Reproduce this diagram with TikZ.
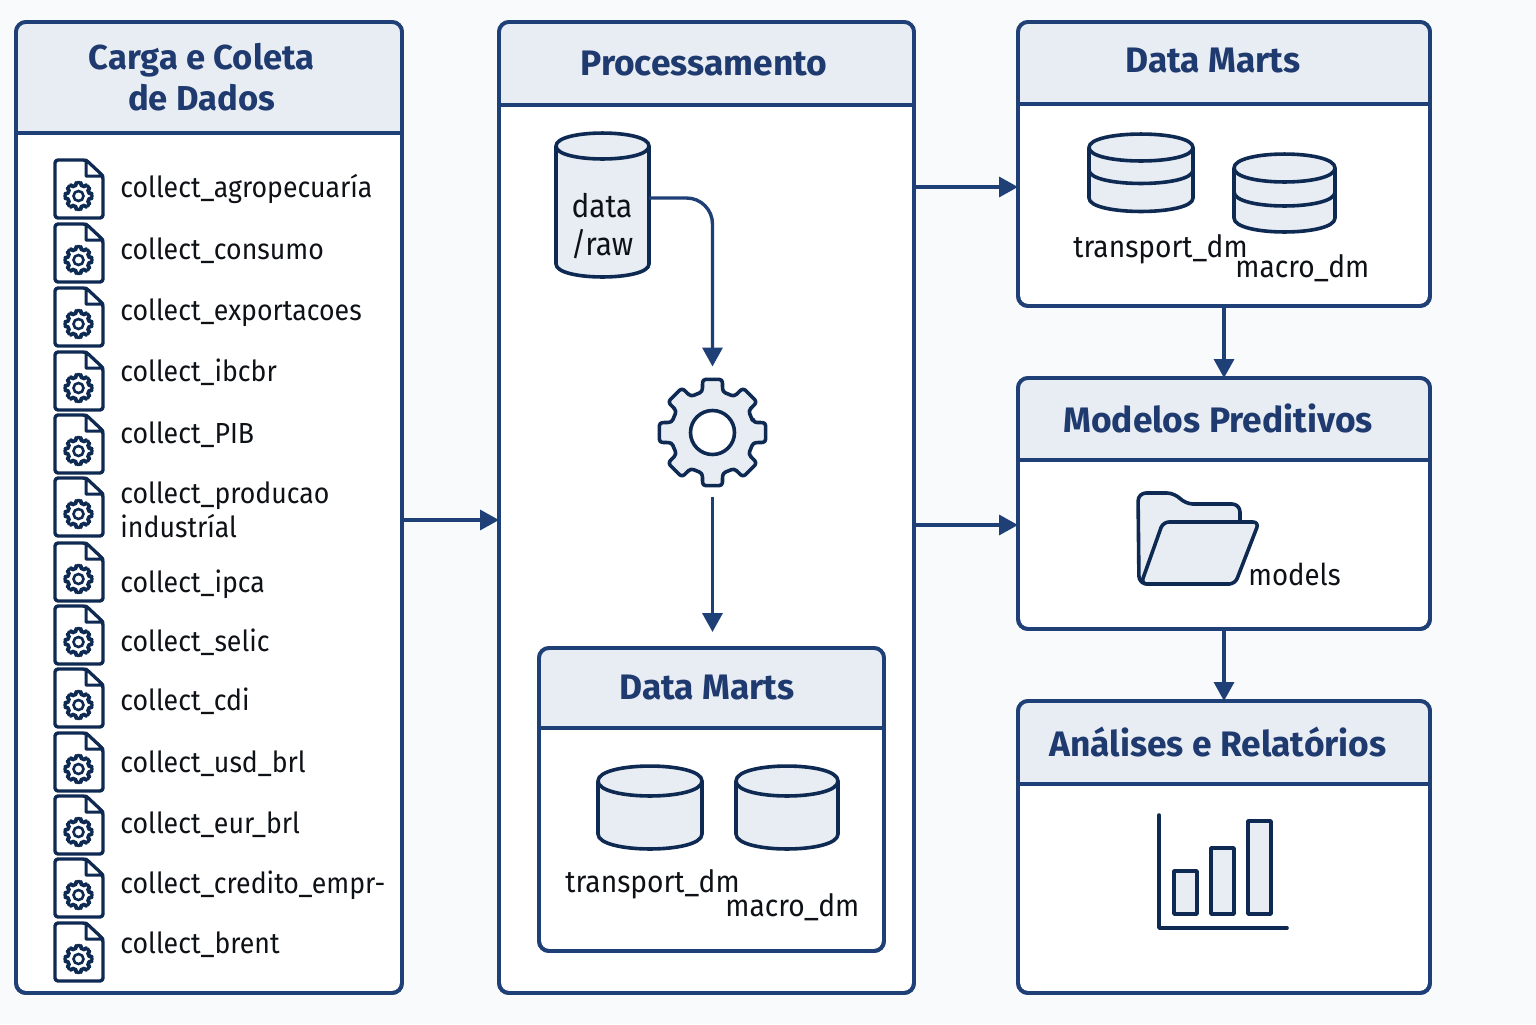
\documentclass[tikz,border=0pt]{standalone}
\usepackage{fontspec}
\setmainfont{Fira Sans}
\newfontfamily\bodyf{Fira Sans}[FakeStretch=0.92]
\usetikzlibrary{arrows.meta}
\definecolor{bgc}{HTML}{F9FAFC}
\definecolor{linec}{HTML}{1F3F77}
\definecolor{darkc}{HTML}{0F2A52}
\definecolor{headc}{HTML}{E8EDF4}
\definecolor{titlec}{HTML}{1F3A6E}
\definecolor{textc}{HTML}{0E1116}
\tikzset{
  x=0.5pt,y=-0.5pt,
  panelbox/.style={draw=linec,line width=1.9pt,rounded corners=5pt,inner sep=0pt,outer sep=0pt},
  titletext/.style={text=titlec,font=\fontsize{17.7}{20.5}\selectfont\bfseries,align=center,inner sep=0pt},
  bodytext/.style={text=textc,font=\bodyf\fontsize{14.5}{17}\selectfont,align=left,inner sep=0pt},
  dmtext/.style={bodytext,font=\bodyf\fontsize{15.3}{18}\selectfont},
  rawtext/.style={bodytext,font=\bodyf\fontsize{16.2}{19}\selectfont,align=center},
  iconline/.style={draw=darkc,line width=1.8pt,line join=round},
  iconfill/.style={iconline,fill=headc},
  arr/.style={draw=linec,line width=1.7pt,-{Triangle[length=9.5pt,width=10pt]}},
  anchorbox/.style={inner sep=0pt,outer sep=0pt},
}
\newcommand{\PanelBox}[6]{% name, x0,y0,x1,y1, header bottom
  \node[panelbox,fill=white,minimum width={(#4-#2)*0.5pt},minimum height={(#5-#3)*0.5pt}] (#1) at ({(#2+#4)/2},{(#3+#5)/2}) {};
  \begin{scope}
    \clip[rounded corners=5pt] (#2,#3) rectangle (#4,#5);
    \fill[headc] (#2,#3) rectangle (#4,#6);
  \end{scope}
  \draw[linec,line width=1.7pt] (#2,#6) -- (#4,#6);
  \node[panelbox,minimum width={(#4-#2)*0.5pt},minimum height={(#5-#3)*0.5pt}] at ({(#2+#4)/2},{(#3+#5)/2}) {};
}
\newcommand{\GearShape}[5]{% cx,cy,Rout,Rroot,style
  \draw[#5] ({#1+#4*cos(-14)},{#2+#4*sin(-14)})
    \foreach \a in {0,45,...,315}{
      -- ({#1+#4*cos(\a-14)},{#2+#4*sin(\a-14)})
      -- ({#1+#3*cos(\a-10.5)},{#2+#3*sin(\a-10.5)})
      -- ({#1+#3*cos(\a+10.5)},{#2+#3*sin(\a+10.5)})
      -- ({#1+#4*cos(\a+14)},{#2+#4*sin(\a+14)})
    } -- cycle;
}
\newcommand{\DocIcon}[2]{% name, top y
  \node[anchorbox,minimum width=24pt,minimum height=29pt] (#1) at (79,{#2+29}) {};
  \draw[iconline,line width=1.7pt,fill=white,rounded corners=1.5pt] (55,#2) -- (86,#2) -- (103,{#2+16}) -- (103,{#2+58}) -- (55,{#2+58}) -- cycle;
  \draw[iconline,line width=1.5pt,fill=white] (86,#2) -- (86,{#2+16}) -- (103,{#2+16}) -- cycle;
  \GearShape{78.5}{#2+36}{14}{10.5}{draw=darkc,line width=1.3pt,line join=round,rounded corners=1.8pt}
  \draw[darkc,line width=1.3pt] (78.5,{#2+36}) circle[radius=5];
}
\newcommand{\CylShape}[6]{% x0,x1,top centre y,bottom centre y,ry,band list
  \draw[iconfill] (#1,#3) -- (#1,#4) .. controls (#1,{#4+1.33*#5}) and (#2,{#4+1.33*#5}) .. (#2,#4) -- (#2,#3) .. controls (#2,{#3-1.33*#5}) and (#1,{#3-1.33*#5}) .. (#1,#3) -- cycle;
  \draw[iconline] (#1,#3) .. controls (#1,{#3+1.33*#5}) and (#2,{#3+1.33*#5}) .. (#2,#3);
  \foreach \b in {#6}{
    \draw[iconline] (#1,\b) .. controls (#1,{\b+1.33*#5}) and (#2,{\b+1.33*#5}) .. (#2,\b);
  }
}
\begin{document}
\begin{tikzpicture}
\useasboundingbox (0,0) rectangle (1536,1024);
\fill[bgc] (0,0) rectangle (1536,1024);

\PanelBox{carga}{16}{22}{402}{993}{133}
\PanelBox{proc}{499}{22}{914}{993}{105}
\PanelBox{dmright}{1018}{22}{1430}{306}{104}
\PanelBox{modelos}{1018}{378}{1430}{629}{460}
\PanelBox{analises}{1018}{701}{1430}{993}{784}
\PanelBox{dminner}{539}{648}{884}{951}{728}

\node[titletext,font=\fontsize{17.3}{20.5}\selectfont\bfseries] (tcarga) at (201.5,77.5) {Carga e Coleta\\de Dados};
\node[titletext] (tproc) at (704,64) {Processamento};
\node[titletext] (tdmr) at (1213,61) {Data Marts};
\node[titletext] (tmod) at (1218,418) {Modelos Preditivos};
\node[titletext] (tana) at (1218,742) {Análises e Relatórios};
\node[titletext] (tdmi) at (707,688) {Data Marts};

% document list
\foreach \n/\t in {a/160,b/224,c/288,d/352,e/415,f/478,g/543,h/606,i/669,j/733,k/796,l/859,m/923}{
  \DocIcon{doc\n}{\t}
}
\foreach \n/\y/\s in {a/197/collect\_agropecuaría,b/259/collect\_consumo,c/320/collect\_exportacoes,d/381/collect\_ibcbr,e/443/collect\_PIB,f/503/collect\_producao,g/592/collect\_ipca,h/651/collect\_selic,i/710/collect\_cdi,j/772/collect\_usd\_brl,k/833/collect\_eur\_brl,l/893/collect\_credito\_empr-,m/953/collect\_brent}{
  \node[bodytext,anchor=base west] (lab\n) at (120,\y) {\s};
}
\node[bodytext,anchor=base west] (labf2) at (120,537) {industríal};

% data/raw
\CylShape{556}{649}{146}{264}{13}{}
\node[anchorbox,minimum width=46.5pt,minimum height=72pt] (raw) at (602.5,205) {};
\node[rawtext] (rawt1) at (602,206) {data};
\node[rawtext] (rawt2) at (602,244) {/raw};

% gear
\GearShape{712.5}{432.5}{54}{42}{iconfill,rounded corners=1.5pt}
\draw[iconline,fill=white] (712.5,432.5) circle[radius=22];
\node[anchorbox,minimum size=54pt] (gear) at (712.5,432.5) {};

% right data marts
\CylShape{1089}{1193}{147.5}{198}{13.5}{170}
\CylShape{1234}{1335}{168}{218}{14}{192}
\node[dmtext,anchor=base west] (t1) at (1073,257) {transport\_dm};
\node[dmtext,anchor=base west] (t2) at (1235,277) {macro\_dm};

% inner data marts
\CylShape{598}{702}{781}{834}{15}{}
\CylShape{736}{838}{781}{834}{15}{}
\node[dmtext,anchor=base west] (t3) at (565,892) {transport\_dm};
\node[dmtext,anchor=base west] (t4) at (725,916) {macro\_dm};

% folder
\draw[iconfill,rounded corners=4pt] (1139,584) -- (1138,493) -- (1175,493) -- (1185,504) -- (1240,504) -- (1240,540) -- (1235,584) -- cycle;
\draw[iconfill,rounded corners=3pt] (1163,522) -- (1259,522) -- (1235,584) -- (1141,584) -- cycle;
\node[dmtext,font=\bodyf\fontsize{15}{18}\selectfont,anchor=base west] (tmodels) at (1248,585) {models};

% chart
\draw[iconline,line cap=round] (1159,815) -- (1159,928) -- (1287,928);
\draw[iconfill] (1174,871) rectangle (1197,914);
\draw[iconfill] (1211,848) rectangle (1234,914);
\draw[iconfill] (1248,821) rectangle (1271,914);

% connectors
\coordinate (y1) at (0,520);
\coordinate (y2) at (0,187);
\coordinate (y3) at (0,525);
\coordinate (y4) at (0,198);
\coordinate (x1) at (1224,0);
\draw[arr] (carga.east |- y1) -- (proc.west |- y1);
\draw[arr] (proc.east |- y2) -- (dmright.west |- y2);
\draw[arr] (proc.east |- y3) -- (modelos.west |- y3);
\draw[arr] (dmright.south -| x1) -- (modelos.north -| x1);
\draw[arr] (modelos.south -| x1) -- (analises.north -| x1);
\draw[arr,rounded corners=13pt,shorten >=6pt] (raw.east |- y4) -| (gear.north);
\draw[arr,shorten <=5pt,shorten >=8pt] (gear.south) -- (gear.south |- dminner.north);
\end{tikzpicture}
\end{document}
